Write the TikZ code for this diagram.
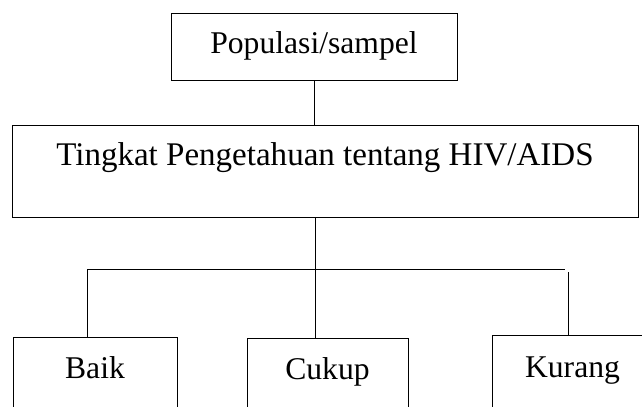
\documentclass[tikz,border=0pt]{standalone}
\usepackage{fontspec}
\setmainfont{Liberation Serif}

\begin{document}
\begin{tikzpicture}[line width = 0.7pt,
		box/.style = {draw, rectangle, inner sep = 0pt, anchor = north, font = \fontsize{22.5}{26}\selectfont}]
		% \draw[step=1] (0,0) grid (16,10);
		\clip (0,0) rectangle (16.05,10.15);
		\node[box, minimum width = 7.15cm, text height = 1.0cm, text depth = 0.675cm] (n1) at (7.85, 9.825){Populasi/sampel};
		\node[box, minimum width = 15.65cm, text height = 1.0cm, text depth = 1.3cm, font = \fontsize{23.5}{26}\selectfont] (n2) at (8.125, 7.025){Tingkat Pengetahuan tentang HIV/AIDS};
		\node[box, minimum width = 4.1cm, text height = 1.025cm, text depth = 2cm] (n3) at (2.375, 1.725){Baik};
		\node[box, minimum width = 4.025cm, text height = 1.025cm, text depth = 2cm] (n4) at (8.1875, 1.7){Cukup};
		\node[box, minimum width = 4.025cm, text height = 1.05cm, text depth = 2cm] (n5) at (14.3125, 1.775){Kurang};
		\coordinate (A) at (7.875, 3.425);
		\coordinate (B) at (2.175, 3.425);
		\coordinate (C) at (14.125, 3.425);
		\coordinate (D) at (14.2, 3.35);
		\draw (n1.south) -- (n1.south |- n2.north);
		\draw (A |- n2.south) -- (A |- n4.north);
		\draw (B) -- (C);
		\draw (B) -- (B |- n3.north);
		\draw (D) -- (D |- n5.north);
\end{tikzpicture}
\end{document}
